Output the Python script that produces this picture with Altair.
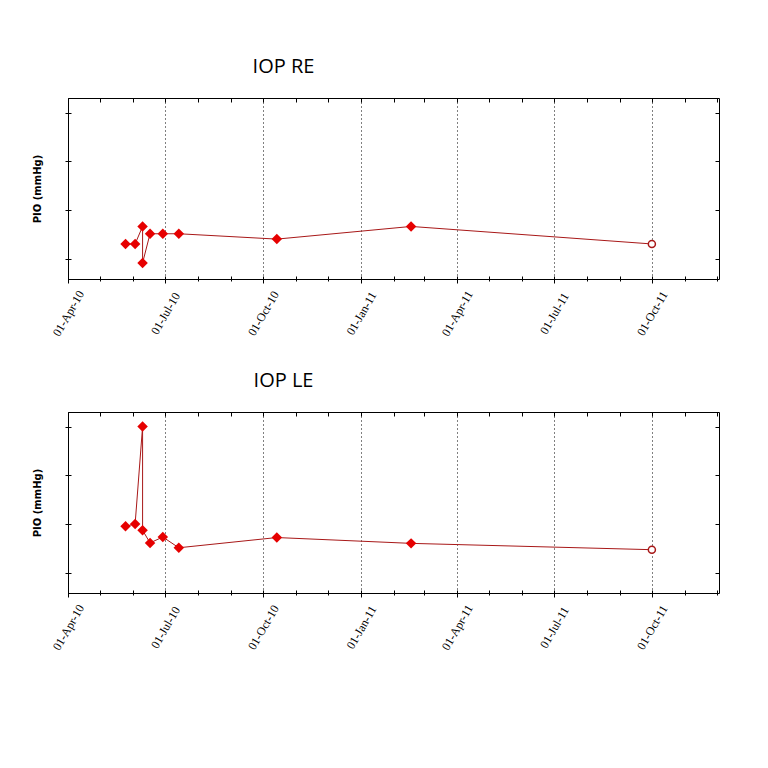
import altair as alt
import pandas as pd

# ---- data ----
visit_dates = ["2010-05-25", "2010-06-03", "2010-06-10", "2010-06-10", "2010-06-17",
               "2010-06-29", "2010-07-14", "2010-10-14", "2011-02-17", "2011-10-01"]
iop_re = [13.0, 13.0, 16.6, 9.1, 15.1, 15.1, 15.1, 14.0, 16.6, 13.0]
iop_le = [19.5, 20.0, 40.0, 18.7, 16.1, 17.3, 15.1, 17.2, 16.0, 14.7]
panel_titles = ["IOP RE", "IOP LE"]
y_ticks = [10, 20, 30, 40]
y_domain = [5.8, 43.0]
month_ticks = [(2010, m) for m in range(4, 13)] + [(2011, m) for m in range(1, 13)]

LINE = "#a81818"
POINT = "#e60000"
W, H = 651, 181

tick_values = [alt.DateTime(year=y, month=m, date=1, utc=True) for y, m in month_ticks]
x_domain = [alt.DateTime(year=2010, month=4, date=1, utc=True),
            alt.DateTime(year=2011, month=12, date=3, utc=True)]
QUARTER = "utcmonth(datum.value) % 3 == 0"


def panel(values, title):
    df = pd.DataFrame({"date": visit_dates, "iop": values})
    df["idx"] = range(len(df))
    xs = alt.Scale(type="utc", domain=x_domain, nice=False)
    ys = alt.Scale(domain=y_domain, nice=False, zero=False)

    bottom_axis = alt.Axis(
        orient="bottom", values=tick_values, title=None, domain=False,
        offset=-3, tickColor="black", tickWidth=1,
        tickSize={"condition": {"test": QUARTER, "value": 7}, "value": 5},
        labelExpr=f"{QUARTER} ? utcFormat(datum.value, '%d-%b-%y') : ''",
        labelAngle=-60, labelAlign="center", labelBaseline="middle",
        labelFont="Liberation Serif", labelFontSize=12, labelColor="black",
        labelPadding=30, labelOverlap=False, labelFlush=False,
        grid=True, gridColor="black", gridDash=[1, 3], gridWidth=1,
        gridOpacity={"condition": {"test": QUARTER, "value": 1}, "value": 0},
    )
    top_axis = alt.Axis(orient="top", values=tick_values, title=None, domain=False,
                        labels=False, grid=False, tickSize=4, offset=-4,
                        tickColor="black")
    left_axis = alt.Axis(orient="left", values=y_ticks, title="PIO (mmHg)", domain=False,
                         labels=False, grid=False, tickSize=6, offset=-3, tickColor="black",
                         titleFont="DejaVu Sans", titleFontSize=10, titleFontWeight="bold",
                         titleColor="black", titlePadding=22)
    right_axis = alt.Axis(orient="right", values=y_ticks, title=None, domain=False,
                          labels=False, grid=False, tickSize=4, offset=-4, tickColor="black")

    base = alt.Chart(df)
    line = base.mark_line(color=LINE, strokeWidth=1).encode(
        x=alt.X("date:T", scale=xs, axis=bottom_axis),
        y=alt.Y("iop:Q", scale=ys, axis=left_axis),
        order="idx:Q",
    )
    filled = alt.Chart(df.iloc[:-1]).mark_point(
        shape="diamond", filled=True, color=POINT, size=110, opacity=1
    ).encode(
        x=alt.X("date:T", scale=xs, axis=top_axis),
        y=alt.Y("iop:Q", scale=ys, axis=right_axis),
    )
    last = alt.Chart(df.iloc[-1:]).mark_point(
        shape="circle", filled=False, fill="white", stroke=LINE, strokeWidth=1.5,
        size=50, opacity=1
    ).encode(
        x=alt.X("date:T", scale=xs, axis=None),
        y=alt.Y("iop:Q", scale=ys, axis=None),
    )
    return alt.layer(line, filled, last).resolve_axis(
        x="independent", y="independent"
    ).properties(
        width=W, height=H,
        title=alt.TitleParams(title, anchor="middle", dx=-110, font="Open Sans",
                              fontSize=20, fontWeight="normal", color="black", offset=21),
    )


chart = alt.vconcat(
    panel(iop_re, panel_titles[0]),
    panel(iop_le, panel_titles[1]),
    spacing=31,
).properties(
    padding={"left": 24, "top": 48, "right": 5, "bottom": 5},
    background="white",
).configure_view(stroke="black", strokeWidth=1)

chart.save("out.html", embed_options={"renderer": "svg", "actions": False})
